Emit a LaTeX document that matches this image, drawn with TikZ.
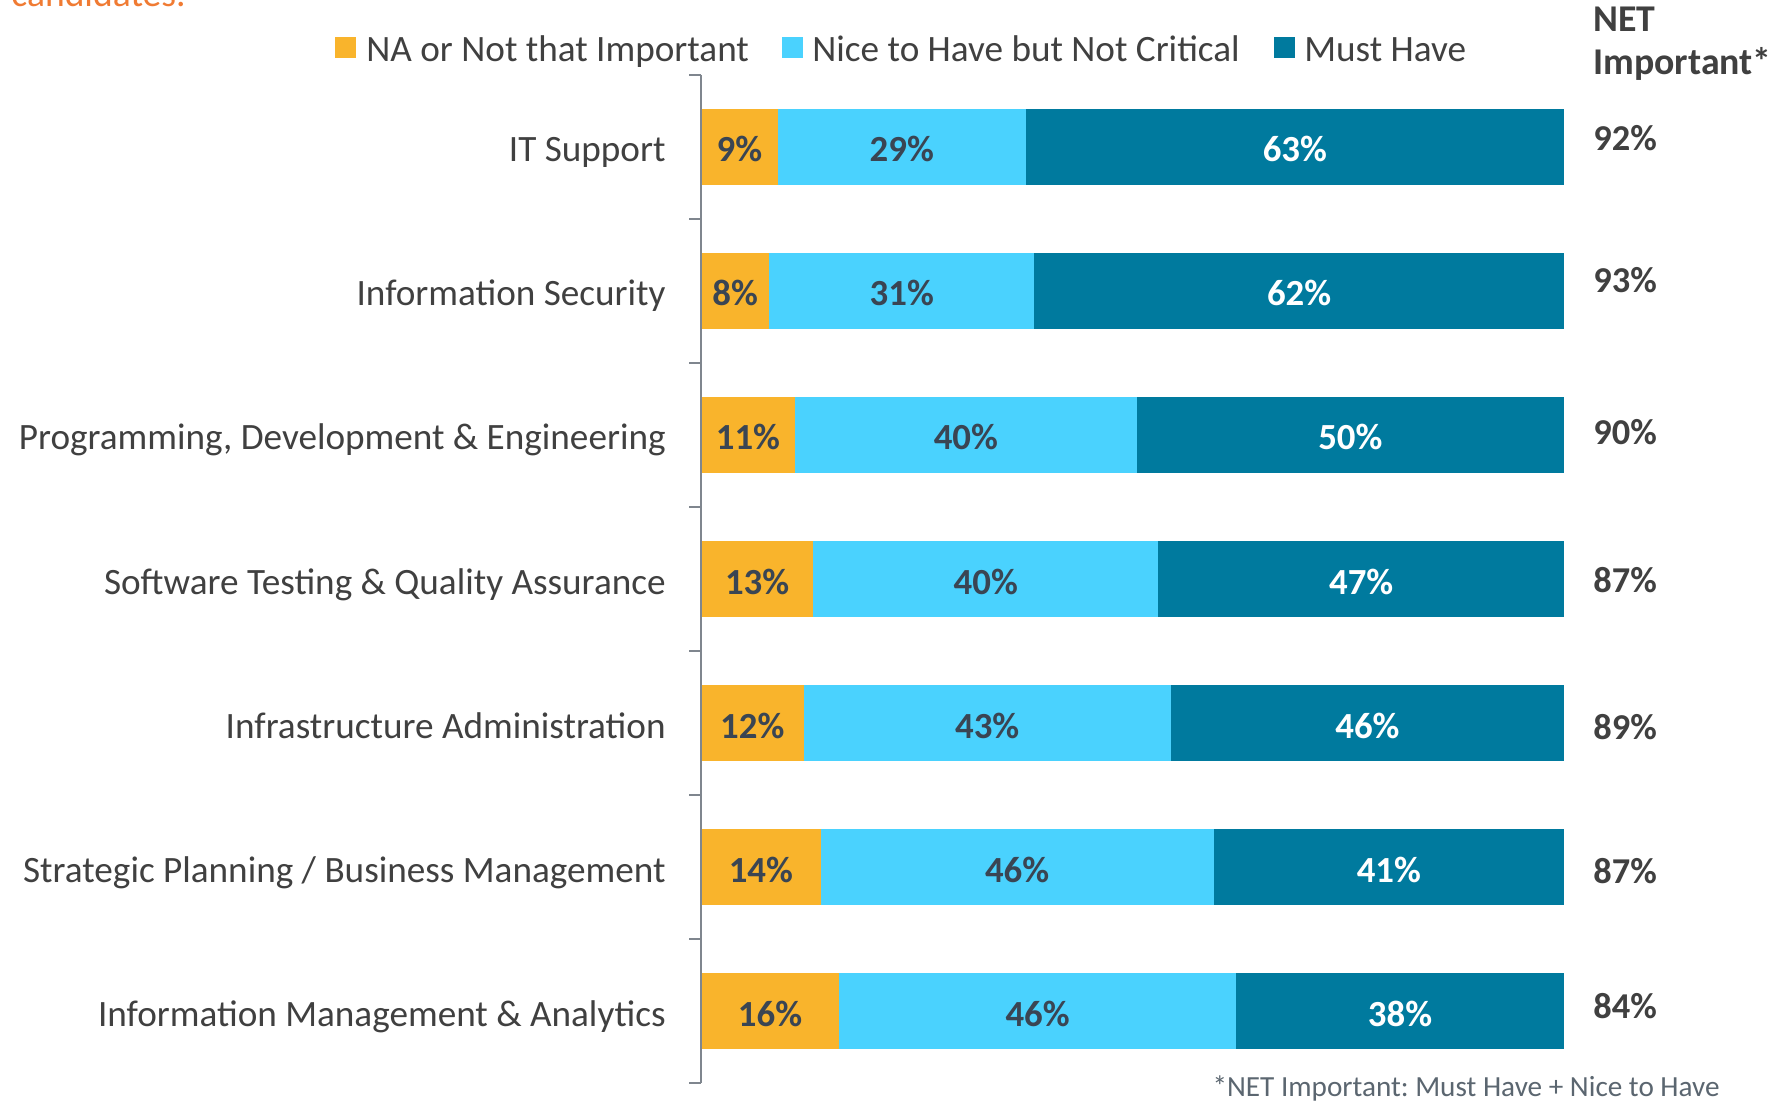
\documentclass[tikz,border=0pt]{standalone}
\usepackage{fontspec}
\setmainfont{Carlito}
\frenchspacing
\definecolor{orng}{HTML}{F9B42C}
\definecolor{lblue}{HTML}{4AD2FE}
\definecolor{dteal}{HTML}{007A9E}
\definecolor{txt}{HTML}{404040}
\definecolor{bartxt}{HTML}{3A4553}
\definecolor{axisg}{HTML}{7F868E}
\definecolor{ttl}{HTML}{F07B33}
\definecolor{foot}{HTML}{5B6670}
\tikzset{
  catlabel/.style={anchor=base east, inner sep=0pt, text=txt, font=\fontsize{18.6pt}{20pt}\selectfont},
  barnum/.style={anchor=base, inner sep=0pt, text=bartxt, font=\fontsize{18.4pt}{20pt}\selectfont\bfseries},
  barnumw/.style={barnum, text=white},
  netnum/.style={anchor=base west, inner sep=0pt, text=txt, font=\fontsize{18.2pt}{20pt}\selectfont\bfseries},
  legtext/.style={anchor=base west, inner sep=0pt, text=txt, font=\fontsize{18.6pt}{20pt}\selectfont},
  legbox/.style={minimum size=10.5pt, inner sep=0pt, anchor=north west},
  nethead/.style={anchor=base west, inner sep=0pt, text=txt, font=\fontsize{18.9pt}{20pt}\selectfont\bfseries},
}
\newcommand\chartrow[7]{%
  \pgfmathsetmacro\yc{147+144*(#1-1)}%
  \pgfmathsetmacro\tot{#3+#4+#5}%
  \pgfmathsetmacro\xa{701+#3/\tot*863}%
  \pgfmathsetmacro\xb{701+(#3+#4)/\tot*863}%
  \fill[orng] (701,\yc-38) rectangle (\xa,\yc+38);
  \fill[lblue] (\xa,\yc-38) rectangle (\xb,\yc+38);
  \fill[dteal] (\xb,\yc-38) rectangle (1564,\yc+38);
  \node[catlabel] (cat#1) at (666,\yc+15) {#2};
  \node[barnum] (na#1) at ({(701+\xa)/2},\yc+15) {#3\%};
  \node[barnum] (nice#1) at ({(\xa+\xb)/2},\yc+15) {#4\%};
  \node[barnumw] (must#1) at ({(\xb+1564)/2},\yc+15) {#5\%};
  \node[netnum] (net#1) at (1593,#7+12.5) {#6\%};
}
\begin{document}
\begin{tikzpicture}[x=0.5pt,y=-0.5pt]
\useasboundingbox (0,0) rectangle (1790,1107);
\clip (0,0) rectangle (1790,1107);
\fill[white] (0,0) rectangle (1790,1107);
% cut-off title
\node[anchor=base west, inner sep=0pt, text=ttl, font=\fontsize{18.8pt}{20pt}\selectfont] (title) at (11,7) {candidates.};
% legend
\node[legbox, fill=orng] (lb1) at (335,37) {};
\node[legtext] (lt1) at (366,62) {NA or Not that Important};
\node[legbox, fill=lblue] (lb2) at (782,37) {};
\node[legtext] (lt2) at (812,62) {Nice to Have but Not Critical};
\node[legbox, fill=dteal] (lb3) at (1274,37) {};
\node[legtext] (lt3) at (1304,62) {Must Have};
% NET header
\node[nethead] (neth1) at (1593,32) {NET};
\node[nethead] (neth2) at (1593,75) {Important*};
% rows
\chartrow{1}{IT Support}{9}{29}{63}{92}{138}
\chartrow{2}{Information Security}{8}{31}{62}{93}{280}
\chartrow{3}{Programming, Development \& Engineering}{11}{40}{50}{90}{432}
\chartrow{4}{Software Testing \& Quality Assurance}{13}{40}{47}{87}{580}
\chartrow{5}{Infrastructure Administration}{12}{43}{46}{89}{727}
\chartrow{6}{Strategic Planning / Business Management}{14}{46}{41}{87}{871}
\chartrow{7}{Information Management \& Analytics}{16}{46}{38}{84}{1006}
% axis
\coordinate (axtop) at (701,75);
\coordinate (axbot) at (701,1083);
\draw[axisg, line width=1pt] (axtop) -- (axbot);
\foreach \k in {0,...,7}{
  \coordinate (tk\k) at (701,75+144*\k);
  \coordinate (tl\k) at (689,75+144*\k);
  \draw[axisg, line width=1pt] (tl\k) -- (tk\k);
}
% footnote
\node[anchor=base east, inner sep=0pt, text=foot, font=\fontsize{14.6pt}{16pt}\selectfont] (fn) at (1720,1096) {*NET Important: Must Have + Nice to Have};
\end{tikzpicture}
\end{document}
